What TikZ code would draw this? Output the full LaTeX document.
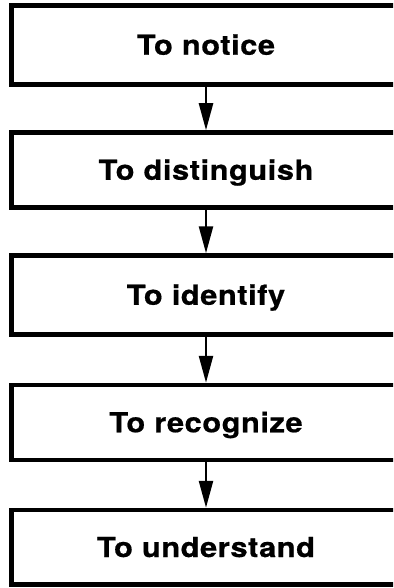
\documentclass[tikz,border=0pt]{standalone}
\usepackage{fontspec}
\setmainfont{TeX Gyre Heros}[LetterSpace=2, FakeStretch=1.12, BoldFeatures={FakeBold=0.6}]
\usetikzlibrary{arrows.meta}
\begin{document}
\begin{tikzpicture}[x=1pt,y=-1pt,
  stage/.style={draw, line width=4.5pt, rectangle, minimum width=389pt,
    inner sep=0pt, text height=19.5pt, text depth=0pt,
    font=\fontsize{27.5}{30}\selectfont\bfseries},
  conn/.style={-{Triangle[length=27pt,width=14pt]}, line width=2.5pt}]
\clip (0,0) rectangle (393,588);
\node[stage, minimum height=79pt] (a) at (206,45) {To notice};
\node[stage, minimum height=75pt] (b) at (206,170) {To distinguish};
\node[stage, minimum height=79pt] (c) at (206,295) {To identify};
\node[stage, minimum height=75pt] (d) at (206,422.5) {To recognize};
\node[stage, minimum height=74.5pt] (e) at (206,547.25) {To understand};
\draw[conn] (a) -- (b);
\draw[conn] (b) -- (c);
\draw[conn] (c) -- (d);
\draw[conn] (d) -- (e);
\end{tikzpicture}
\end{document}
